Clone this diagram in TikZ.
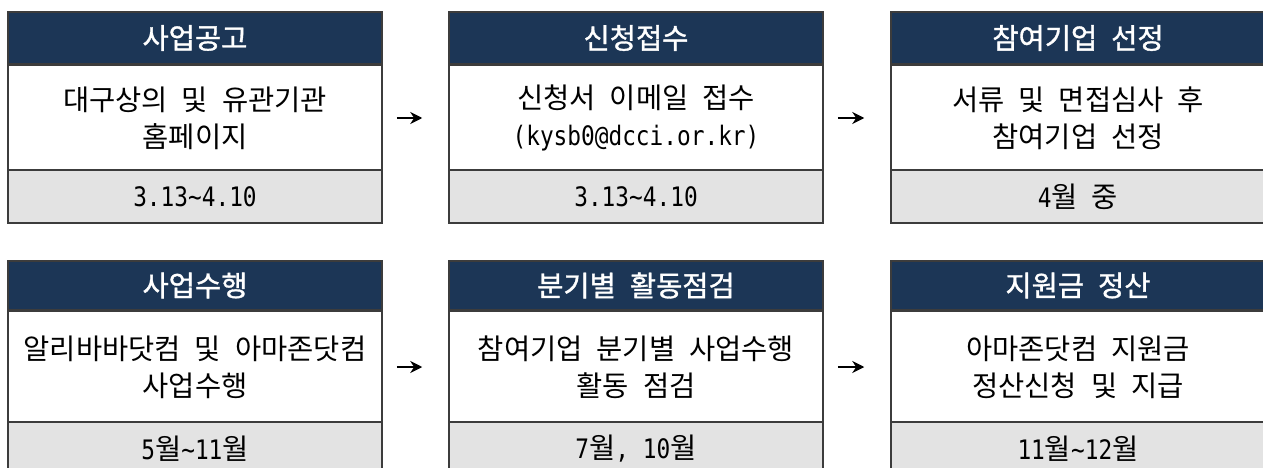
\documentclass[tikz,border=0pt]{standalone}
\usepackage{fontspec}
\setmainfont{Noto Sans CJK KR}
\newfontfamily\hdrfont{Noto Sans CJK KR}[FakeBold=1.2]
\newfontfamily\monofont{DejaVu Sans Mono}[FakeStretch=0.85]
\usetikzlibrary{arrows.meta}
\definecolor{navy}{RGB}{28,54,86}
\definecolor{dategray}{RGB}{227,227,227}
\definecolor{edgecol}{RGB}{60,60,60}
\newcommand\mn[1]{{\monofont\fontsize{26.8}{37}\selectfont #1}}
\newcommand\kfont{\fontsize{28.5}{37}\selectfont\spaceskip 14pt\relax}
\tikzset{
  basebox/.style={draw=edgecol, line width=1.5pt, minimum width=374pt, inner sep=0pt, align=center,
    font=\kfont},
  hdr/.style={basebox, fill=navy, text=white},
  bodybox/.style={basebox, fill=white},
  datebox/.style={basebox, fill=dategray},
  arr/.style={-{Stealth[length=12pt,width=12pt]}, line width=2.6pt, shorten <=14pt, shorten >=26pt}
}
\begin{document}
\begin{tikzpicture}[x=1pt,y=-1pt]
\useasboundingbox (0,0) rectangle (1263,468);
\clip (0,0) rectangle (1263,468);
% row 1
\node[bodybox, minimum height=106pt] (b1) at (195,118) {대구상의 및 유관기관\\홈페이지};
\node[bodybox, minimum height=106pt] (b2) at (636,118) {신청서 이메일 접수\\\mn{(kysb0@dcci.or.kr)}};
\node[bodybox, minimum height=106pt] (b3) at (1078,118) {서류 및 면접심사 후\\참여기업 선정};
\node[hdr, minimum height=52pt] (h1) at (195,38) {\hdrfont 사업공고};
\node[hdr, minimum height=52pt] (h2) at (636,38) {\hdrfont 신청접수};
\node[hdr, minimum height=52pt] (h3) at (1078,38) {\hdrfont 참여기업 선정};
\node[datebox, minimum height=53pt] (d1) at (195,196.5) {\mn{3.13\textasciitilde4.10}};
\node[datebox, minimum height=53pt] (d2) at (636,196.5) {\mn{3.13\textasciitilde4.10}};
\node[datebox, minimum height=53pt] (d3) at (1078,196.5) {\mn{4}월 중};
% row 2
\node[bodybox, minimum height=112pt] (b4) at (195,367) {알리바바닷컴 및 아마존닷컴\\사업수행};
\node[bodybox, minimum height=112pt] (b5) at (636,367) {참여기업 분기별 사업수행\\활동 점검};
\node[bodybox, minimum height=112pt] (b6) at (1078,367) {아마존닷컴 지원금\\정산신청 및 지급};
\node[hdr, minimum height=49pt] (h4) at (195,285.5) {\hdrfont 사업수행};
\node[hdr, minimum height=49pt] (h5) at (636,285.5) {\hdrfont 분기별 활동점검};
\node[hdr, minimum height=49pt] (h6) at (1078,285.5) {\hdrfont 지원금 정산};
\node[datebox, minimum height=53pt] (d4) at (195,448.5) {\mn{5}월\mn{\textasciitilde11}월};
\node[datebox, minimum height=53pt] (d5) at (636,448.5) {\mn{7}월\mn{, 10}월};
\node[datebox, minimum height=53pt] (d6) at (1078,448.5) {\mn{11}월\mn{\textasciitilde12}월};
% arrows
\draw[arr] (b1.east) -- (b2.west);
\draw[arr] (b2.east) -- (b3.west);
\draw[arr] (b4.east) -- (b5.west);
\draw[arr] (b5.east) -- (b6.west);
\end{tikzpicture}
\end{document}
